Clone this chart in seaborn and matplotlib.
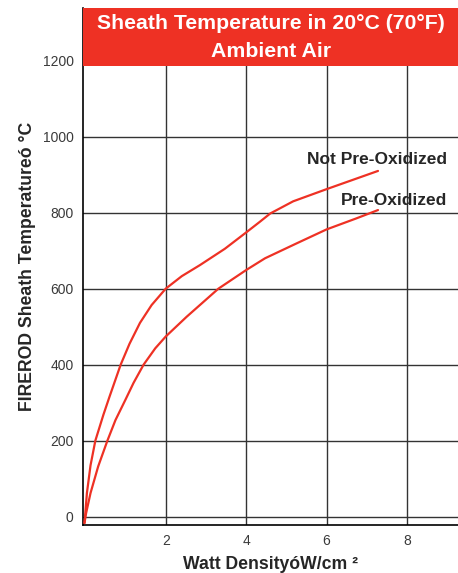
import numpy as np
import pandas as pd
import matplotlib
matplotlib.use("Agg")
import matplotlib.pyplot as plt
from matplotlib.patches import Rectangle
import seaborn as sns

# values
not_preox_wd = [-0.02, 0.04, 0.13, 0.25, 0.45, 0.6, 0.88, 1.1, 1.36, 1.65, 2.0, 2.4, 2.85,
                3.47, 4.0, 4.34, 4.6, 5.17, 6.0, 7.28]
not_preox_temp = [-17, 62, 135, 200, 268, 315, 400, 455, 510, 557, 600, 633, 662,
                  705, 748, 776, 798, 830, 862, 910]
preox_wd = [-0.02, 0.02, 0.13, 0.32, 0.55, 0.75, 1.0, 1.2, 1.45, 1.74, 2.0, 2.52, 3.31, 4.0,
            4.47, 5.25, 6.0, 6.74, 7.28]
preox_temp = [-17, 9, 62, 132, 200, 254, 308, 352, 400, 443, 474, 526, 600, 649,
              680, 719, 756, 785, 807]

x_ticks = [2, 4, 6, 8]
y_ticks = [0, 200, 400, 600, 800, 1000, 1200]

red = "#EE3124"

sns.set_style("white")
plt.rcParams["font.family"] = ["Liberation Sans", "DejaVu Sans"]

df = pd.concat([
    pd.DataFrame({"wd": not_preox_wd, "temp": not_preox_temp, "s": "Not Pre-Oxidized"}),
    pd.DataFrame({"wd": preox_wd, "temp": preox_temp, "s": "Pre-Oxidized"}),
])

fig = plt.figure(figsize=(4.58, 5.73), dpi=100)
ax = fig.add_axes([83.3/458, 1-525.3/573, 1-83.3/458, (525.3-8)/573])

sns.lineplot(data=df, x="wd", y="temp", units="s", estimator=None, sort=False,
             color=red, linewidth=1.6, ax=ax, zorder=3)

ax.set_xlim(-0.05, 9.27)
ax.set_ylim(-23, 1339)
ax.set_xticks(x_ticks)
ax.set_yticks(y_ticks)
ax.grid(True, color="#333333", linewidth=1.0)
ax.tick_params(length=0, labelsize=10, labelcolor="#3a3a3a")
ax.tick_params(axis="y", pad=7)
ax.tick_params(axis="x", pad=6)
for s in ["top", "right"]:
    ax.spines[s].set_visible(False)
for s in ["left", "bottom"]:
    ax.spines[s].set_color("black")
    ax.spines[s].set_linewidth(1.2)

ax.set_xlabel("Watt DensityóW/cm ²", fontsize=12.7, fontweight="bold", labelpad=6)
ax.set_ylabel("FIREROD Sheath Temperatureó °C", fontsize=12.7, fontweight="bold", labelpad=5)

# red title band
box_h = 57.7 / 517.3
ax.add_patch(Rectangle((0, 1 - box_h), 1, box_h, transform=ax.transAxes,
                       facecolor=red, edgecolor="none", zorder=5, clip_on=False))
ax.text(0.5, 1 - box_h * 0.26, "Sheath Temperature in 20°C (70°F)", transform=ax.transAxes,
        ha="center", va="center", color="white", fontsize=15.3, fontweight="bold", zorder=6)
ax.text(0.5, 1 - box_h * 0.76, "Ambient Air", transform=ax.transAxes,
        ha="center", va="center", color="white", fontsize=15.3, fontweight="bold", zorder=6)

ax.text(9.0, 939, "Not Pre-Oxidized", ha="right", va="center", fontsize=12.5, fontweight="bold", zorder=4)
ax.text(9.0, 833, "Pre-Oxidized", ha="right", va="center", fontsize=12.5, fontweight="bold", zorder=4)

fig.savefig("out.png", dpi=100)
